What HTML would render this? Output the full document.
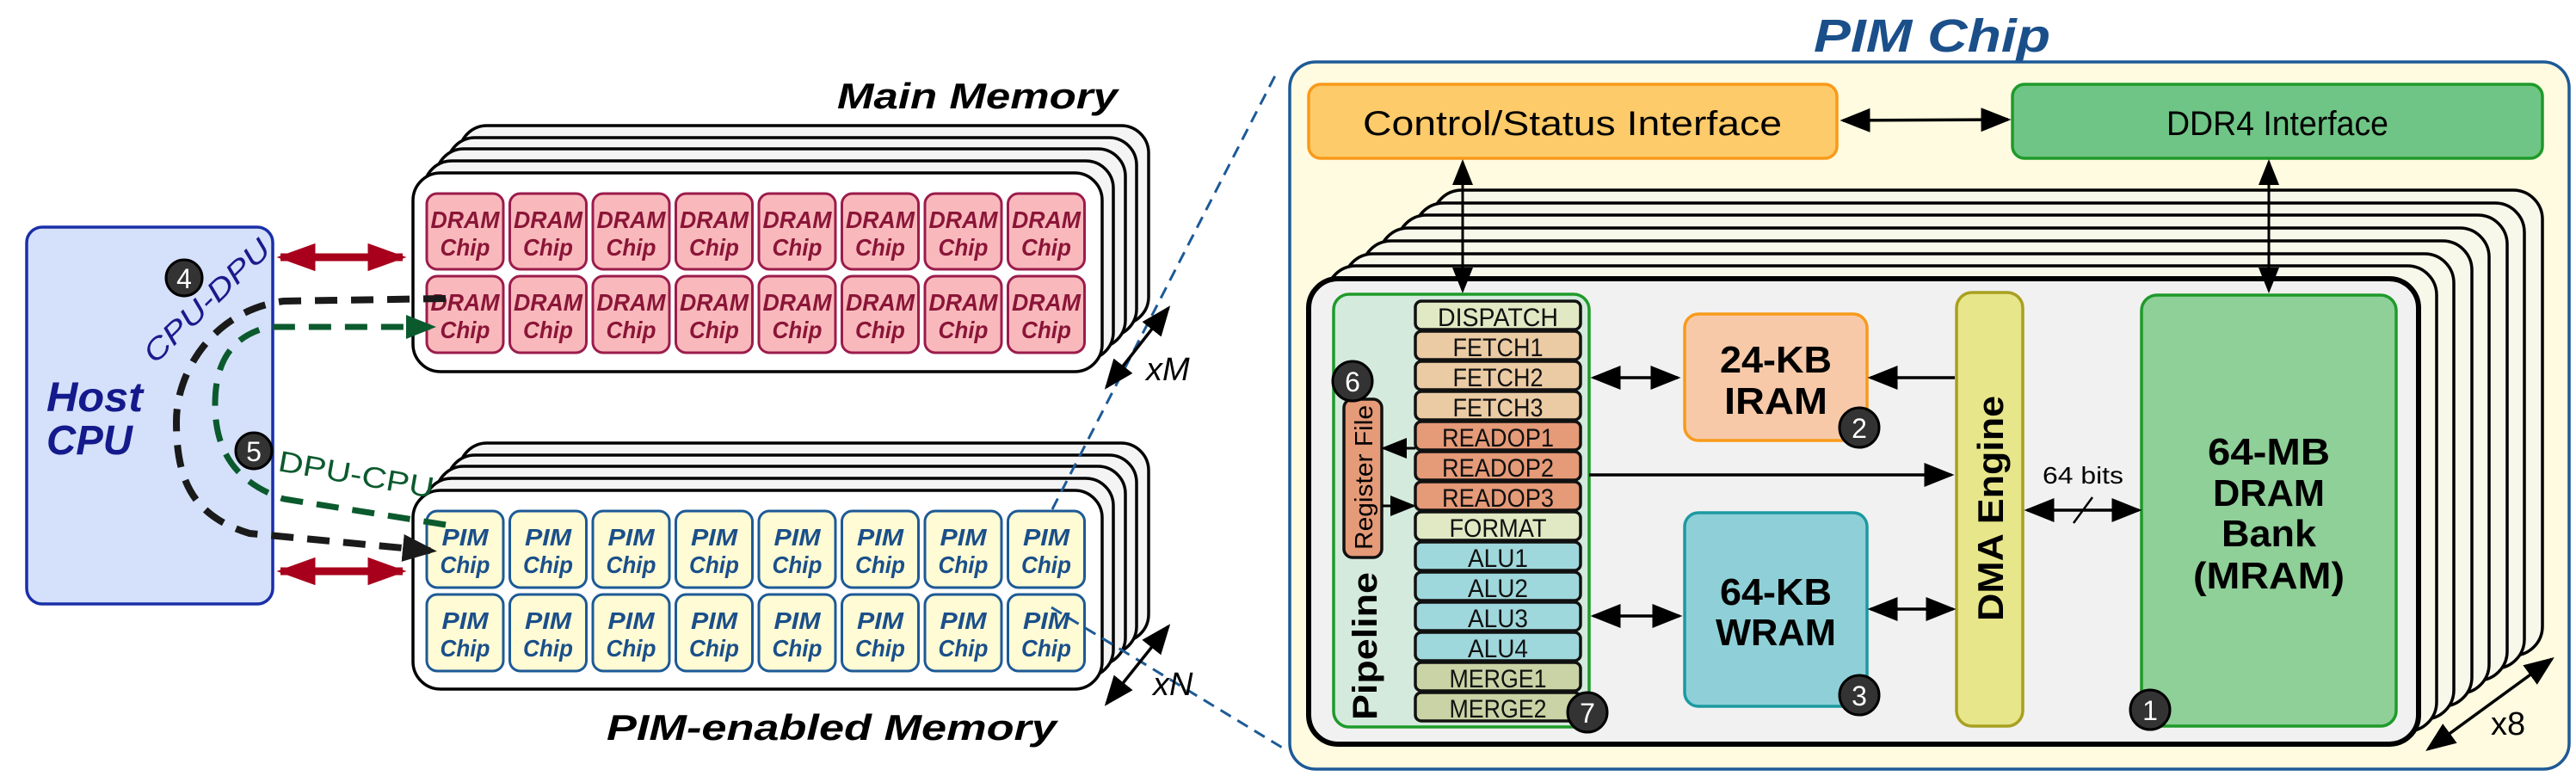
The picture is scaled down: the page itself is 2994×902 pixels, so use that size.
<!DOCTYPE html>
<html><head><meta charset="utf-8"><style>
html,body{margin:0;padding:0;background:#fff;}
svg{display:block;font-family:"Liberation Sans",sans-serif;}
.dc rect{fill:#f9b9bc;stroke:#9c1c4c;stroke-width:3;}
.dc text{fill:#8a1538;font-weight:bold;font-style:italic;font-size:28px;text-anchor:middle;}
.pc rect{fill:#fffbd4;stroke:#1d5a96;stroke-width:3;}
.pc text{fill:#1a4f8a;font-weight:bold;font-style:italic;font-size:28px;text-anchor:middle;}
.st rect{stroke:#111;stroke-width:3.5;}
.st text{font-size:30px;text-anchor:middle;fill:#111;}
.bd circle{fill:#333;stroke:#000;stroke-width:3;}
.bd text{fill:#fff;font-size:32px;text-anchor:middle;}
</style></head><body>
<svg width="2994" height="902" viewBox="0 0 2994 902" xmlns="http://www.w3.org/2000/svg">
<defs>
<marker id="ah" markerWidth="10" markerHeight="8" refX="9" refY="4" orient="auto-start-reverse" markerUnits="strokeWidth"><path d="M0,0 L10,4 L0,8 z" fill="#000"/></marker>
<marker id="ahr" markerWidth="5" markerHeight="3.6" refX="4.5" refY="1.8" orient="auto-start-reverse" markerUnits="strokeWidth"><path d="M0,0 L5,1.8 L0,3.6 z" fill="#a8001c"/></marker>
<marker id="ahb" markerWidth="5" markerHeight="4" refX="4" refY="2" orient="auto" markerUnits="strokeWidth"><path d="M0,0 L5,2 L0,4 z" fill="#1a1a1a"/></marker>
<marker id="ahg" markerWidth="5" markerHeight="4" refX="4" refY="2" orient="auto" markerUnits="strokeWidth"><path d="M0,0 L5,2 L0,4 z" fill="#0b5a2e"/></marker>
</defs>

<!-- Host CPU -->
<rect x="31" y="264" width="286" height="438" rx="18" fill="#d5e1fa" stroke="#1a2fa8" stroke-width="3.5"/>
<text x="54" y="478" font-size="48" font-weight="bold" font-style="italic" fill="#141a8c" textLength="112" lengthAdjust="spacingAndGlyphs">Host</text>
<text x="54" y="528" font-size="48" font-weight="bold" font-style="italic" fill="#141a8c" textLength="100" lengthAdjust="spacingAndGlyphs">CPU</text>

<!-- Main memory title -->
<text x="973" y="126" font-size="42" font-weight="bold" font-style="italic" textLength="326" lengthAdjust="spacingAndGlyphs">Main Memory</text>
<g fill="#f4f4f4" stroke="#000" stroke-width="3.5">
<rect x="534" y="146" width="801" height="231" rx="32"/>
<rect x="520" y="160" width="801" height="231" rx="32"/>
<rect x="507" y="173" width="801" height="231" rx="32"/>
<rect x="493" y="187" width="801" height="231" rx="32"/>
<rect x="480" y="201" width="801" height="231" rx="32" fill="#fff"/>
</g>
<g class="dc">
<g transform="translate(496,225)"><rect width="89" height="88" rx="12"/><text x="44.5" y="40" textLength="80" lengthAdjust="spacingAndGlyphs">DRAM</text><text x="44.5" y="72" textLength="58" lengthAdjust="spacingAndGlyphs">Chip</text></g>
<g transform="translate(592.5,225)"><rect width="89" height="88" rx="12"/><text x="44.5" y="40" textLength="80" lengthAdjust="spacingAndGlyphs">DRAM</text><text x="44.5" y="72" textLength="58" lengthAdjust="spacingAndGlyphs">Chip</text></g>
<g transform="translate(689,225)"><rect width="89" height="88" rx="12"/><text x="44.5" y="40" textLength="80" lengthAdjust="spacingAndGlyphs">DRAM</text><text x="44.5" y="72" textLength="58" lengthAdjust="spacingAndGlyphs">Chip</text></g>
<g transform="translate(785.5,225)"><rect width="89" height="88" rx="12"/><text x="44.5" y="40" textLength="80" lengthAdjust="spacingAndGlyphs">DRAM</text><text x="44.5" y="72" textLength="58" lengthAdjust="spacingAndGlyphs">Chip</text></g>
<g transform="translate(882,225)"><rect width="89" height="88" rx="12"/><text x="44.5" y="40" textLength="80" lengthAdjust="spacingAndGlyphs">DRAM</text><text x="44.5" y="72" textLength="58" lengthAdjust="spacingAndGlyphs">Chip</text></g>
<g transform="translate(978.5,225)"><rect width="89" height="88" rx="12"/><text x="44.5" y="40" textLength="80" lengthAdjust="spacingAndGlyphs">DRAM</text><text x="44.5" y="72" textLength="58" lengthAdjust="spacingAndGlyphs">Chip</text></g>
<g transform="translate(1075,225)"><rect width="89" height="88" rx="12"/><text x="44.5" y="40" textLength="80" lengthAdjust="spacingAndGlyphs">DRAM</text><text x="44.5" y="72" textLength="58" lengthAdjust="spacingAndGlyphs">Chip</text></g>
<g transform="translate(1171.5,225)"><rect width="89" height="88" rx="12"/><text x="44.5" y="40" textLength="80" lengthAdjust="spacingAndGlyphs">DRAM</text><text x="44.5" y="72" textLength="58" lengthAdjust="spacingAndGlyphs">Chip</text></g>
<g transform="translate(496,321)"><rect width="89" height="89" rx="12"/><text x="44.5" y="40" textLength="80" lengthAdjust="spacingAndGlyphs">DRAM</text><text x="44.5" y="72" textLength="58" lengthAdjust="spacingAndGlyphs">Chip</text></g>
<g transform="translate(592.5,321)"><rect width="89" height="89" rx="12"/><text x="44.5" y="40" textLength="80" lengthAdjust="spacingAndGlyphs">DRAM</text><text x="44.5" y="72" textLength="58" lengthAdjust="spacingAndGlyphs">Chip</text></g>
<g transform="translate(689,321)"><rect width="89" height="89" rx="12"/><text x="44.5" y="40" textLength="80" lengthAdjust="spacingAndGlyphs">DRAM</text><text x="44.5" y="72" textLength="58" lengthAdjust="spacingAndGlyphs">Chip</text></g>
<g transform="translate(785.5,321)"><rect width="89" height="89" rx="12"/><text x="44.5" y="40" textLength="80" lengthAdjust="spacingAndGlyphs">DRAM</text><text x="44.5" y="72" textLength="58" lengthAdjust="spacingAndGlyphs">Chip</text></g>
<g transform="translate(882,321)"><rect width="89" height="89" rx="12"/><text x="44.5" y="40" textLength="80" lengthAdjust="spacingAndGlyphs">DRAM</text><text x="44.5" y="72" textLength="58" lengthAdjust="spacingAndGlyphs">Chip</text></g>
<g transform="translate(978.5,321)"><rect width="89" height="89" rx="12"/><text x="44.5" y="40" textLength="80" lengthAdjust="spacingAndGlyphs">DRAM</text><text x="44.5" y="72" textLength="58" lengthAdjust="spacingAndGlyphs">Chip</text></g>
<g transform="translate(1075,321)"><rect width="89" height="89" rx="12"/><text x="44.5" y="40" textLength="80" lengthAdjust="spacingAndGlyphs">DRAM</text><text x="44.5" y="72" textLength="58" lengthAdjust="spacingAndGlyphs">Chip</text></g>
<g transform="translate(1171.5,321)"><rect width="89" height="89" rx="12"/><text x="44.5" y="40" textLength="80" lengthAdjust="spacingAndGlyphs">DRAM</text><text x="44.5" y="72" textLength="58" lengthAdjust="spacingAndGlyphs">Chip</text></g>
</g>

<!-- PIM memory layers -->
<g fill="#f4f4f4" stroke="#000" stroke-width="3.5">
<rect x="534" y="515" width="801" height="231" rx="32"/>
<rect x="520" y="529" width="801" height="231" rx="32"/>
<rect x="507" y="542" width="801" height="231" rx="32"/>
<rect x="493" y="556" width="801" height="231" rx="32"/>
<rect x="480" y="570" width="801" height="231" rx="32" fill="#fff"/>
</g>
<g class="pc">
<g transform="translate(496,594)"><rect width="89" height="89" rx="12"/><text x="44.5" y="40" textLength="54" lengthAdjust="spacingAndGlyphs">PIM</text><text x="44.5" y="72" textLength="58" lengthAdjust="spacingAndGlyphs">Chip</text></g>
<g transform="translate(592.5,594)"><rect width="89" height="89" rx="12"/><text x="44.5" y="40" textLength="54" lengthAdjust="spacingAndGlyphs">PIM</text><text x="44.5" y="72" textLength="58" lengthAdjust="spacingAndGlyphs">Chip</text></g>
<g transform="translate(689,594)"><rect width="89" height="89" rx="12"/><text x="44.5" y="40" textLength="54" lengthAdjust="spacingAndGlyphs">PIM</text><text x="44.5" y="72" textLength="58" lengthAdjust="spacingAndGlyphs">Chip</text></g>
<g transform="translate(785.5,594)"><rect width="89" height="89" rx="12"/><text x="44.5" y="40" textLength="54" lengthAdjust="spacingAndGlyphs">PIM</text><text x="44.5" y="72" textLength="58" lengthAdjust="spacingAndGlyphs">Chip</text></g>
<g transform="translate(882,594)"><rect width="89" height="89" rx="12"/><text x="44.5" y="40" textLength="54" lengthAdjust="spacingAndGlyphs">PIM</text><text x="44.5" y="72" textLength="58" lengthAdjust="spacingAndGlyphs">Chip</text></g>
<g transform="translate(978.5,594)"><rect width="89" height="89" rx="12"/><text x="44.5" y="40" textLength="54" lengthAdjust="spacingAndGlyphs">PIM</text><text x="44.5" y="72" textLength="58" lengthAdjust="spacingAndGlyphs">Chip</text></g>
<g transform="translate(1075,594)"><rect width="89" height="89" rx="12"/><text x="44.5" y="40" textLength="54" lengthAdjust="spacingAndGlyphs">PIM</text><text x="44.5" y="72" textLength="58" lengthAdjust="spacingAndGlyphs">Chip</text></g>
<g transform="translate(1171.5,594)"><rect width="89" height="89" rx="12"/><text x="44.5" y="40" textLength="54" lengthAdjust="spacingAndGlyphs">PIM</text><text x="44.5" y="72" textLength="58" lengthAdjust="spacingAndGlyphs">Chip</text></g>
<g transform="translate(496,691)"><rect width="89" height="89" rx="12"/><text x="44.5" y="40" textLength="54" lengthAdjust="spacingAndGlyphs">PIM</text><text x="44.5" y="72" textLength="58" lengthAdjust="spacingAndGlyphs">Chip</text></g>
<g transform="translate(592.5,691)"><rect width="89" height="89" rx="12"/><text x="44.5" y="40" textLength="54" lengthAdjust="spacingAndGlyphs">PIM</text><text x="44.5" y="72" textLength="58" lengthAdjust="spacingAndGlyphs">Chip</text></g>
<g transform="translate(689,691)"><rect width="89" height="89" rx="12"/><text x="44.5" y="40" textLength="54" lengthAdjust="spacingAndGlyphs">PIM</text><text x="44.5" y="72" textLength="58" lengthAdjust="spacingAndGlyphs">Chip</text></g>
<g transform="translate(785.5,691)"><rect width="89" height="89" rx="12"/><text x="44.5" y="40" textLength="54" lengthAdjust="spacingAndGlyphs">PIM</text><text x="44.5" y="72" textLength="58" lengthAdjust="spacingAndGlyphs">Chip</text></g>
<g transform="translate(882,691)"><rect width="89" height="89" rx="12"/><text x="44.5" y="40" textLength="54" lengthAdjust="spacingAndGlyphs">PIM</text><text x="44.5" y="72" textLength="58" lengthAdjust="spacingAndGlyphs">Chip</text></g>
<g transform="translate(978.5,691)"><rect width="89" height="89" rx="12"/><text x="44.5" y="40" textLength="54" lengthAdjust="spacingAndGlyphs">PIM</text><text x="44.5" y="72" textLength="58" lengthAdjust="spacingAndGlyphs">Chip</text></g>
<g transform="translate(1075,691)"><rect width="89" height="89" rx="12"/><text x="44.5" y="40" textLength="54" lengthAdjust="spacingAndGlyphs">PIM</text><text x="44.5" y="72" textLength="58" lengthAdjust="spacingAndGlyphs">Chip</text></g>
<g transform="translate(1171.5,691)"><rect width="89" height="89" rx="12"/><text x="44.5" y="40" textLength="54" lengthAdjust="spacingAndGlyphs">PIM</text><text x="44.5" y="72" textLength="58" lengthAdjust="spacingAndGlyphs">Chip</text></g>
</g>
<text x="705" y="860" font-size="42" font-weight="bold" font-style="italic" textLength="523" lengthAdjust="spacingAndGlyphs">PIM-enabled Memory</text>

<!-- red arrows -->
<line x1="326" y1="299" x2="468" y2="299" stroke="#a8001c" stroke-width="9" marker-start="url(#ahr)" marker-end="url(#ahr)"/>
<line x1="326" y1="664" x2="468" y2="664" stroke="#a8001c" stroke-width="9" marker-start="url(#ahr)" marker-end="url(#ahr)"/>

<!-- dashed curves -->
<path d="M518,347 L330,350 C250,360 205,430 205,490 C205,560 225,600 290,620 L500,640" fill="none" stroke="#1a1a1a" stroke-width="8" stroke-dasharray="26,16" marker-end="url(#ahb)"/>
<path d="M518,610 L330,580 C270,560 250,520 250,470 C250,420 270,390 313,380 L500,380" fill="none" stroke="#0b5a2e" stroke-width="7" stroke-dasharray="26,16" marker-end="url(#ahg)"/>
<g class="bd"><circle cx="214" cy="323" r="21"/><text x="214" y="335">4</text><circle cx="295" cy="524" r="21"/><text x="295" y="536">5</text></g>
<text x="0" y="0" transform="translate(180,424) rotate(-44)" font-size="34" font-style="italic" fill="#1a1a8c" textLength="190" lengthAdjust="spacingAndGlyphs">CPU-DPU</text>
<text x="0" y="0" transform="translate(322,547) rotate(10)" font-size="34" fill="#0b5a2e" textLength="183" lengthAdjust="spacingAndGlyphs">DPU-CPU</text>

<!-- blue dashed lines -->
<line x1="1223" y1="592" x2="1482" y2="88" stroke="#1d5a96" stroke-width="3" stroke-dasharray="14,9"/>
<line x1="1222" y1="706" x2="1492" y2="870" stroke="#1d5a96" stroke-width="3" stroke-dasharray="14,9"/>

<!-- xM xN -->
<line x1="1286" y1="450" x2="1358" y2="358" stroke="#000" stroke-width="3.5" marker-start="url(#ah)" marker-end="url(#ah)"/>
<text x="1332" y="442" font-size="38" font-style="italic">xM</text>
<line x1="1286" y1="818" x2="1358" y2="728" stroke="#000" stroke-width="3.5" marker-start="url(#ah)" marker-end="url(#ah)"/>
<text x="1340" y="808" font-size="38" font-style="italic">xN</text>

<!-- PIM Chip -->
<text x="2108" y="60" font-size="54" font-weight="bold" font-style="italic" fill="#1a4f8a" textLength="275" lengthAdjust="spacingAndGlyphs">PIM Chip</text>
<rect x="1499" y="72" width="1487" height="822" rx="30" fill="#fffbe0" stroke="#1d5a96" stroke-width="3.5"/>
<rect x="1521" y="98" width="614" height="86" rx="14" fill="#fecb6a" stroke="#f89a1a" stroke-width="3.5"/>
<text x="1584" y="157" font-size="40" textLength="487" lengthAdjust="spacingAndGlyphs">Control/Status Interface</text>
<rect x="2339" y="98" width="616" height="86" rx="14" fill="#6fc585" stroke="#1f9a2a" stroke-width="3.5"/>
<text x="2518" y="157" font-size="40" textLength="258" lengthAdjust="spacingAndGlyphs">DDR4 Interface</text>
<line x1="2142" y1="140" x2="2334" y2="139" stroke="#000" stroke-width="3.5" marker-start="url(#ah)" marker-end="url(#ah)"/>

<!-- x8 layers -->
<g fill="#f8f8ea" stroke="#000" stroke-width="3.5">
<rect x="1665" y="221" width="1290" height="541" rx="34"/>
<rect x="1644" y="236" width="1290" height="541" rx="34"/>
<rect x="1624" y="250" width="1290" height="541" rx="34"/>
<rect x="1603" y="265" width="1290" height="541" rx="34"/>
<rect x="1583" y="280" width="1290" height="541" rx="34"/>
<rect x="1562" y="295" width="1290" height="541" rx="34"/>
<rect x="1542" y="309" width="1290" height="541" rx="34"/>
<rect x="1521" y="324" width="1290" height="541" rx="34" fill="#f1f1f1" stroke-width="6"/>
</g>
<line x1="1700" y1="188" x2="1700" y2="338" stroke="#000" stroke-width="3" marker-start="url(#ah)" marker-end="url(#ah)"/>
<line x1="2637" y1="188" x2="2637" y2="338" stroke="#000" stroke-width="3" marker-start="url(#ah)" marker-end="url(#ah)"/>

<!-- Pipeline -->
<rect x="1550" y="342" width="297" height="503" rx="18" fill="#d4eadd" stroke="#1f9a2a" stroke-width="3.5"/>
<text transform="translate(1600,837) rotate(-90)" font-size="40" font-weight="bold" textLength="172" lengthAdjust="spacingAndGlyphs">Pipeline</text>
<rect x="1562" y="464" width="44" height="184" rx="10" fill="#e59a78" stroke="#111" stroke-width="3.5"/>
<text transform="translate(1595,639) rotate(-90)" font-size="29" textLength="168" lengthAdjust="spacingAndGlyphs">Register File</text>
<g class="st">
<g transform="translate(1645,350)"><rect width="192" height="33" rx="7" fill="#e0e9c3"/><text x="96" y="29" textLength="140" lengthAdjust="spacingAndGlyphs">DISPATCH</text></g>
<g transform="translate(1645,385)"><rect width="192" height="33" rx="7" fill="#ebcba4"/><text x="96" y="29" textLength="105" lengthAdjust="spacingAndGlyphs">FETCH1</text></g>
<g transform="translate(1645,420)"><rect width="192" height="33" rx="7" fill="#ebcba4"/><text x="96" y="29" textLength="105" lengthAdjust="spacingAndGlyphs">FETCH2</text></g>
<g transform="translate(1645,455)"><rect width="192" height="33" rx="7" fill="#ebcba4"/><text x="96" y="29" textLength="105" lengthAdjust="spacingAndGlyphs">FETCH3</text></g>
<g transform="translate(1645,490)"><rect width="192" height="33" rx="7" fill="#e59a78"/><text x="96" y="29" textLength="130" lengthAdjust="spacingAndGlyphs">READOP1</text></g>
<g transform="translate(1645,525)"><rect width="192" height="33" rx="7" fill="#e59a78"/><text x="96" y="29" textLength="130" lengthAdjust="spacingAndGlyphs">READOP2</text></g>
<g transform="translate(1645,560)"><rect width="192" height="33" rx="7" fill="#e59a78"/><text x="96" y="29" textLength="130" lengthAdjust="spacingAndGlyphs">READOP3</text></g>
<g transform="translate(1645,595)"><rect width="192" height="33" rx="7" fill="#e0e9c3"/><text x="96" y="29" textLength="113" lengthAdjust="spacingAndGlyphs">FORMAT</text></g>
<g transform="translate(1645,630)"><rect width="192" height="33" rx="7" fill="#9fd8dc"/><text x="96" y="29" textLength="70" lengthAdjust="spacingAndGlyphs">ALU1</text></g>
<g transform="translate(1645,665)"><rect width="192" height="33" rx="7" fill="#9fd8dc"/><text x="96" y="29" textLength="70" lengthAdjust="spacingAndGlyphs">ALU2</text></g>
<g transform="translate(1645,700)"><rect width="192" height="33" rx="7" fill="#9fd8dc"/><text x="96" y="29" textLength="70" lengthAdjust="spacingAndGlyphs">ALU3</text></g>
<g transform="translate(1645,735)"><rect width="192" height="33" rx="7" fill="#9fd8dc"/><text x="96" y="29" textLength="70" lengthAdjust="spacingAndGlyphs">ALU4</text></g>
<g transform="translate(1645,770)"><rect width="192" height="33" rx="7" fill="#c9d3a5"/><text x="96" y="29" textLength="113" lengthAdjust="spacingAndGlyphs">MERGE1</text></g>
<g transform="translate(1645,805)"><rect width="192" height="33" rx="7" fill="#c9d3a5"/><text x="96" y="29" textLength="113" lengthAdjust="spacingAndGlyphs">MERGE2</text></g>
</g>
<line x1="1645" y1="521" x2="1608" y2="521" stroke="#000" stroke-width="3" marker-end="url(#ah)"/>
<line x1="1606" y1="588" x2="1643" y2="588" stroke="#000" stroke-width="3" marker-end="url(#ah)"/>

<!-- IRAM / WRAM / DMA / MRAM -->
<rect x="1958" y="365" width="212" height="147" rx="16" fill="#f7c9a8" stroke="#f89a1a" stroke-width="3.5"/>
<text x="2064" y="433" font-size="44" font-weight="bold" text-anchor="middle" textLength="130" lengthAdjust="spacingAndGlyphs">24-KB</text>
<text x="2064" y="481" font-size="44" font-weight="bold" text-anchor="middle" textLength="120" lengthAdjust="spacingAndGlyphs">IRAM</text>
<rect x="1958" y="596" width="212" height="225" rx="16" fill="#8fd0d8" stroke="#1c9aa0" stroke-width="3.5"/>
<text x="2064" y="703" font-size="44" font-weight="bold" text-anchor="middle" textLength="130" lengthAdjust="spacingAndGlyphs">64-KB</text>
<text x="2064" y="750" font-size="44" font-weight="bold" text-anchor="middle" textLength="140" lengthAdjust="spacingAndGlyphs">WRAM</text>
<rect x="2274" y="340" width="77" height="504" rx="18" fill="#e8e68a" stroke="#a8a020" stroke-width="3.5"/>
<text transform="translate(2328,722) rotate(-90)" font-size="42" font-weight="bold" textLength="262" lengthAdjust="spacingAndGlyphs">DMA Engine</text>
<rect x="2489" y="343" width="296" height="501" rx="18" fill="#8fcf98" stroke="#1f9a2a" stroke-width="3.5"/>
<g font-size="44" font-weight="bold" text-anchor="middle">
<text x="2637" y="540" textLength="142" lengthAdjust="spacingAndGlyphs">64-MB</text><text x="2637" y="588" textLength="130" lengthAdjust="spacingAndGlyphs">DRAM</text><text x="2637" y="635" textLength="110" lengthAdjust="spacingAndGlyphs">Bank</text><text x="2637" y="684" textLength="176" lengthAdjust="spacingAndGlyphs">(MRAM)</text>
</g>

<line x1="1852" y1="439" x2="1950" y2="439" stroke="#000" stroke-width="3.5" marker-start="url(#ah)" marker-end="url(#ah)"/>
<line x1="2272" y1="439" x2="2174" y2="439" stroke="#000" stroke-width="3.5" marker-end="url(#ah)"/>
<line x1="1847" y1="552" x2="2268" y2="552" stroke="#000" stroke-width="3.5" marker-end="url(#ah)"/>
<line x1="1852" y1="716" x2="1952" y2="716" stroke="#000" stroke-width="3.5" marker-start="url(#ah)" marker-end="url(#ah)"/>
<line x1="2174" y1="708" x2="2270" y2="708" stroke="#000" stroke-width="3.5" marker-start="url(#ah)" marker-end="url(#ah)"/>
<line x1="2356" y1="593" x2="2486" y2="593" stroke="#000" stroke-width="3.5" marker-start="url(#ah)" marker-end="url(#ah)"/>
<line x1="2410" y1="608" x2="2432" y2="578" stroke="#000" stroke-width="2.5"/>
<text x="2421" y="562" font-size="28" text-anchor="middle" textLength="94" lengthAdjust="spacingAndGlyphs">64 bits</text>

<!-- x8 -->
<line x1="2822" y1="871" x2="2966" y2="766" stroke="#000" stroke-width="3.5" marker-start="url(#ah)" marker-end="url(#ah)"/>
<text x="2895" y="854" font-size="38">x8</text>

<!-- badges -->
<g class="bd">
<circle cx="1572" cy="443" r="23"/><text x="1572" y="455">6</text>
<circle cx="1845" cy="828" r="23"/><text x="1845" y="840">7</text>
<circle cx="2161" cy="497" r="23"/><text x="2161" y="509">2</text>
<circle cx="2161" cy="808" r="23"/><text x="2161" y="820">3</text>
<circle cx="2499" cy="825" r="23"/><text x="2499" y="837">1</text>
</g>
</svg>
</body></html>
